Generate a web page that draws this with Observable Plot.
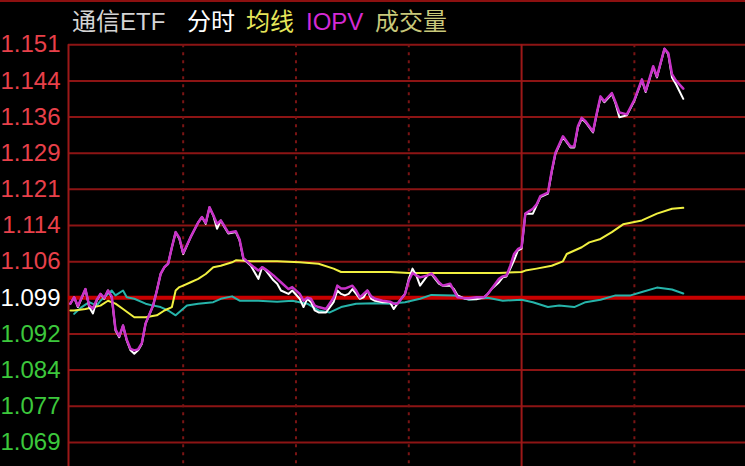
<!DOCTYPE html>
<html>
<head>
<meta charset="utf-8">
<script src="https://cdn.jsdelivr.net/npm/d3@7"></script>
<script src="https://cdn.jsdelivr.net/npm/@observablehq/plot@0.6"></script>
<style>
  html, body { margin: 0; padding: 0; background: #000; overflow: hidden; }
  #wrap { position: relative; width: 745px; height: 466px; background: #000; overflow: hidden; }
  #topline { position: absolute; left: 0; top: 0; width: 745px; height: 2px; background: #8c1010; }
  #title { position: absolute; top: 8px; left: 0; height: 28px; font-size: 24px; line-height: 28px;
           font-family: "Liberation Sans", "Noto Sans CJK SC", sans-serif; white-space: nowrap; }
  #title span { position: absolute; top: 0; }
  #chart svg { display: block; }
</style>
</head>
<body>
<div id="wrap">
  <div id="chart"></div>
  <div id="topline"></div>
  <div id="title"></div>
</div>
<script>
// ---- data (minute index from 9:30, value) ----
const titleParts = [
  {text: "通信ETF", color: "#d4d4d4", left: 72},
  {text: "分时", color: "#ffffff", left: 187},
  {text: "均线", color: "#e6e65a", left: 246},
  {text: "IOPV", color: "#d42ad4", left: 306},
  {text: "成交量", color: "#c8c87a", left: 375}
];

const prevClose = 1.099;
const tickStep = 0.00743;
const yTickSteps = [7, 6, 5, 4, 3, 2, 1, 0, -1, -2, -3, -4];
const yTickLabels = ["1.151","1.144","1.136","1.129","1.121","1.114","1.106","1.099","1.092","1.084","1.077","1.069"];
const dottedMinutes = [30, 60, 90, 150];
const solidMinutes = [120];

const priceData = [
[0,1.0978],[1,1.0991],[2,1.0971],[4,1.1008],[5,1.0971],[6,1.0958],[7,1.0984],[8,1.0998],[9,1.0988],[10,1.1005],
[11,1.0991],[12,1.0923],[13,1.0909],[14,1.0933],[15,1.0902],[16,1.0882],[17,1.0875],[18,1.0882],[19,1.0895],[20,1.0937],
[22,1.0974],[23,1.1005],[24,1.1039],[25,1.1053],[26,1.1060],[27,1.1094],[28,1.1125],[29,1.1111],[30,1.1080],[32,1.1115],
[34,1.1145],[35,1.1156],[36,1.1142],[37,1.1176],[38,1.1159],[39,1.1132],[40,1.1149],[41,1.1135],[42,1.1122],[44,1.1125],
[45,1.1108],[46,1.1070],[47,1.1063],[48,1.1056],[50,1.1029],[51,1.1053],[52,1.1046],[54,1.1026],[55,1.1019],[56,1.1005],
[58,1.0998],[59,1.1005],[61,1.0988],[62,1.0971],[63,1.0988],[64,1.0981],[65,1.0964],[66,1.0960],[68,1.0960],[70,1.0981],
[71,1.1005],[72,1.0998],[73,1.0995],[74,1.0998],[75,1.1008],[76,1.0998],[77,1.0988],[78,1.0991],[79,1.1005],[80,1.0988],
[81,1.0984],[83,1.0981],[85,1.0981],[86,1.0967],[87,1.0978],[89,1.0998],[90,1.1029],[91,1.1050],[92,1.1036],[93,1.1015],
[95,1.1036],[96,1.1039],[97,1.1029],[98,1.1019],[99,1.1015],[101,1.1015],[102,1.1008],[103,1.0995],[105,1.0988],[106,1.0987],
[108,1.0987],[110,1.0991],[111,1.0998],[112,1.1008],[114,1.1022],[115,1.1032],[116,1.1034],[117,1.1050],[118,1.1067],[119,1.1087],
[120,1.1091],[121,1.1163],[123,1.1163],[124,1.1180],[125,1.1197],[127,1.1204],[128,1.1248],[129,1.1286],[131,1.1320],[133,1.1299],
[134,1.1299],[135,1.1341],[136,1.1358],[137,1.1351],[139,1.1330],[140,1.1368],[141,1.1402],[142,1.1392],[144,1.1409],[145,1.1389],
[146,1.1361],[148,1.1365],[150,1.1395],[152,1.1437],[153,1.1413],[155,1.1464],[156,1.1443],[158,1.1502],[159,1.1491],[160,1.1443],
[161,1.1430],[163,1.1399]
];

const iopvData = [
[0,1.0978],[1,1.0991],[2,1.0973],[4,1.1008],[5,1.0974],[6,1.0968],[7,1.0986],[8,1.0998],[9,1.0990],[10,1.1005],
[11,1.0993],[12,1.0925],[13,1.0911],[14,1.0933],[15,1.0904],[16,1.0885],[17,1.0882],[18,1.0884],[19,1.0897],[20,1.0937],
[22,1.0974],[23,1.1005],[24,1.1039],[25,1.1053],[26,1.1060],[27,1.1094],[28,1.1125],[29,1.1113],[30,1.1082],[32,1.1115],
[34,1.1145],[35,1.1156],[36,1.1144],[37,1.1176],[38,1.1160],[39,1.1142],[40,1.1149],[41,1.1137],[42,1.1124],[44,1.1127],
[45,1.1110],[46,1.1072],[47,1.1065],[48,1.1058],[50,1.1046],[51,1.1053],[52,1.1048],[54,1.1036],[55,1.1029],[56,1.1022],
[58,1.1008],[59,1.1012],[61,1.0998],[62,1.0984],[63,1.0990],[64,1.0988],[65,1.0974],[66,1.0971],[68,1.0967],[70,1.0990],
[71,1.1015],[72,1.1009],[73,1.1009],[74,1.1012],[75,1.1015],[76,1.1005],[77,1.0991],[78,1.0998],[79,1.1005],[80,1.0993],
[81,1.0988],[83,1.0984],[85,1.0982],[86,1.0978],[87,1.0978],[89,1.0998],[90,1.1025],[91,1.1041],[92,1.1036],[93,1.1032],
[95,1.1036],[96,1.1040],[97,1.1032],[98,1.1022],[99,1.1015],[101,1.1019],[102,1.1005],[103,1.0991],[105,1.0989],[106,1.0989],
[108,1.0991],[110,1.0991],[111,1.0998],[112,1.1008],[114,1.1029],[115,1.1034],[116,1.1036],[117,1.1056],[118,1.1080],[119,1.1090],
[120,1.1094],[121,1.1163],[123,1.1173],[124,1.1182],[125,1.1199],[127,1.1206],[128,1.1250],[129,1.1288],[131,1.1322],[133,1.1301],
[134,1.1301],[135,1.1343],[136,1.1360],[137,1.1353],[139,1.1332],[140,1.1370],[141,1.1404],[142,1.1394],[144,1.1411],[145,1.1392],
[146,1.1371],[148,1.1367],[150,1.1397],[152,1.1439],[153,1.1415],[155,1.1466],[156,1.1445],[158,1.1502],[159,1.1493],[160,1.1450],
[161,1.1437],[163,1.1420]
];

const avgData = [
[0,1.0964],[1,1.0964],[4,1.0967],[8,1.0974],[10,1.0984],[12,1.0978],[14,1.0967],[17,1.0950],[20,1.0950],[23,1.0954],
[25,1.0964],[27,1.0971],[28,1.1005],[29,1.1012],[30,1.1015],[32,1.1022],[34,1.1029],[36,1.1039],[38,1.1053],[40,1.1056],
[43,1.1063],[44,1.1067],[48,1.1065],[55,1.1065],[61,1.1063],[66,1.1060],[70,1.1050],[72,1.1043],[85,1.1043],[90,1.1041],
[114,1.1041],[120,1.1043],[121,1.1046],[124,1.1050],[128,1.1056],[131,1.1065],[132,1.1080],[136,1.1094],[138,1.1104],[141,1.1111],
[144,1.1125],[147,1.1141],[152,1.1149],[156,1.1163],[160,1.1173],[163,1.1175]
];

const refData = [
[1,1.0957],[3,1.0971],[5,1.0981],[7,1.0974],[8,1.0984],[11,1.1005],[12,1.0995],[14,1.1005],[15,1.0991],[17,1.0988],
[20,1.0978],[22,1.0974],[24,1.0971],[26,1.0964],[28,1.0954],[31,1.0974],[34,1.0978],[38,1.0981],[40,1.0988],[43,1.0993],
[45,1.0984],[50,1.0984],[55,1.0982],[59,1.0984],[63,1.0978],[66,1.0964],[69,1.0960],[72,1.0971],[76,1.0978],[81,1.0979],
[85,1.0978],[89,1.0981],[93,1.0988],[96,1.0996],[102,1.0995],[106,1.0986],[111,1.0990],[115,1.0984],[120,1.0986],[123,1.0981],
[127,1.0971],[130,1.0974],[134,1.0971],[137,1.0981],[141,1.0986],[145,1.0995],[149,1.0995],[152,1.1002],[156,1.1011],[160,1.1007],
[163,1.0999]
];

// ---- build ----
const ticks = yTickSteps.map((k, i) => ({v: prevClose + k * tickStep, label: yTickLabels[i], k}));
const gridTicks = ticks.filter(d => d.k !== 0);
const centerTick = ticks.filter(d => d.k === 0);
const topTick = ticks[0].v;
const yDomain = [1.06433, 1.16011];
const xDomain = [-0.5, 179.55];
const font = "Liberation Sans, Arial, sans-serif";

const chart = Plot.plot({
  width: 745, height: 466,
  marginLeft: 68, marginRight: 0, marginTop: 0, marginBottom: 0,
  style: {background: "#000", overflow: "visible"},
  x: {domain: xDomain, axis: null},
  y: {domain: yDomain, axis: null},
  marks: [
    Plot.ruleY(gridTicks, {y: "v", stroke: "#8c1414", strokeWidth: 2}),
    Plot.ruleX(dottedMinutes, {x: d => d, y1: topTick, y2: yDomain[0], stroke: "#7a1414", strokeWidth: 2, strokeDasharray: "3,5"}),
    Plot.ruleX(solidMinutes, {x: d => d, y1: topTick, y2: yDomain[0], stroke: "#9c1818", strokeWidth: 2}),
    Plot.ruleX([xDomain[0]], {x: d => d, y1: topTick, y2: yDomain[0], stroke: "#9c1818", strokeWidth: 2}),
    Plot.ruleY(centerTick, {y: "v", stroke: "#c80000", strokeWidth: 4}),
    Plot.text(ticks.filter(d => d.k > 0), {y: "v", text: "label", frameAnchor: "left", textAnchor: "end", dx: -8, fill: "#e8404a", fontSize: 24, fontFamily: font}),
    Plot.text(centerTick, {y: "v", text: "label", frameAnchor: "left", textAnchor: "end", dx: -8, fill: "#ffffff", fontSize: 24, fontFamily: font}),
    Plot.text(ticks.filter(d => d.k < 0), {y: "v", text: "label", frameAnchor: "left", textAnchor: "end", dx: -8, fill: "#3cc83c", fontSize: 24, fontFamily: font}),
    Plot.line(refData, {x: d => d[0], y: d => d[1], stroke: "#26b4aa", strokeWidth: 2}),
    Plot.line(avgData, {x: d => d[0], y: d => d[1], stroke: "#f0f040", strokeWidth: 2}),
    Plot.line(priceData, {x: d => d[0], y: d => d[1], stroke: "#ffffff", strokeWidth: 2}),
    Plot.line(iopvData, {x: d => d[0], y: d => d[1], stroke: "#c832c8", strokeWidth: 2.5})
  ]
});
document.getElementById("chart").appendChild(chart);

const title = document.getElementById("title");
for (const p of titleParts) {
  const s = document.createElement("span");
  s.textContent = p.text;
  s.style.color = p.color;
  s.style.left = p.left + "px";
  title.appendChild(s);
}
</script>
</body>
</html>
